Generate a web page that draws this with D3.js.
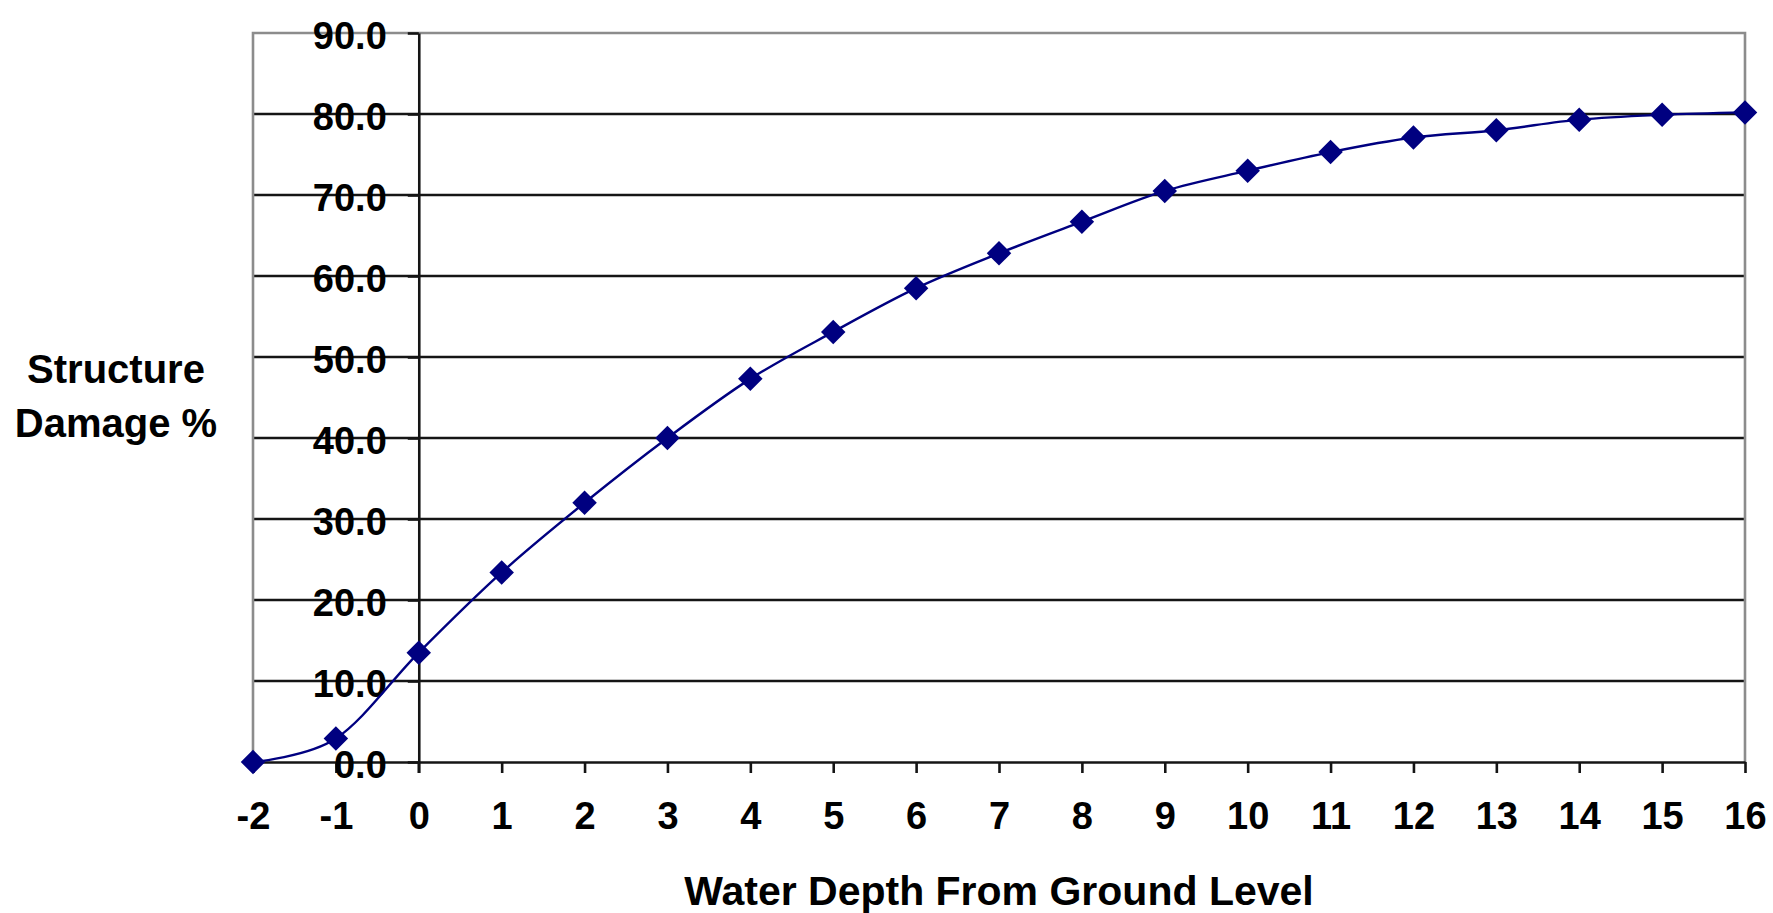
<html>
<style>
    body { margin:0; background:#fff; }
    .chart text { font-family:"Liberation Sans", Arial, sans-serif; font-weight:bold; fill:#000; }
</style>
<script src="https://d3js.org/d3.v7.min.js" charset="utf-8"></script>
<body>
<div class="chart"></div>

<script>
    //************************************************************
    // Data
    //************************************************************
    var depths = [-2, -1, 0, 1, 2, 3, 4, 5, 6, 7, 8, 9, 10, 11, 12, 13, 14, 15, 16];
    var damage = [0.0, 2.9, 13.5, 23.4, 32.0, 40.0, 47.3, 53.1, 58.5, 62.8,
        66.7, 70.5, 73.0, 75.3, 77.1, 78.0, 79.3, 79.9, 80.2];
    var yTicks = [0, 10, 20, 30, 40, 50, 60, 70, 80, 90];
    var xTitle = "Water Depth From Ground Level";
    var yTitle = ["Structure", "Damage %"];

    //************************************************************
    // Configuration
    //************************************************************
    var W = 1773, H = 913;
    var margin = { top: 33, right: 28, bottom: 151, left: 253 };
    var width = W - margin.left - margin.right;
    var height = H - margin.top - margin.bottom;

    var svg = d3.select(".chart").append("svg")
        .attr("width", W)
        .attr("height", H);

    var g = svg.append("g")
        .attr("transform", "translate(" + margin.left + "," + margin.top + ")");

    var x = d3.scaleLinear().domain([-2, 16]).range([0, width]);
    var y = d3.scaleLinear().domain([0, 90]).range([height, 0]);

    //************************************************************
    // Gridlines and plot border
    //************************************************************
    g.selectAll("line.grid")
        .data(yTicks.filter(function(d){ return d > 0 && d < 90; }))
        .enter().append("line")
        .attr("class", "grid")
        .attr("x1", 0).attr("x2", width)
        .attr("y1", function(d){ return y(d); })
        .attr("y2", function(d){ return y(d); })
        .attr("stroke", "#151515")
        .attr("stroke-width", 2.6);

    // grey frame on left, top, right
    g.append("path")
        .attr("d", "M0," + height + "V0H" + width + "V" + height)
        .attr("fill", "none")
        .attr("stroke", "#8c8c8c")
        .attr("stroke-width", 2.6);

    //************************************************************
    // Axes - crossing at the origin
    //************************************************************
    var xAxis = g.append("g")
        .attr("transform", "translate(0," + y(0) + ")")
        .call(d3.axisBottom(x).tickValues(depths).tickSize(11).tickSizeOuter(0).tickPadding(15)
            .tickFormat(d3.format("d")));
    xAxis.select(".domain").attr("stroke", "#151515").attr("stroke-width", 2.6);
    xAxis.selectAll(".tick line").attr("stroke", "#151515").attr("stroke-width", 2.6);
    xAxis.selectAll(".tick text")
        .attr("y", 0)
        .attr("dy", null)
        .attr("transform", "translate(0,67)")
        .style("font-size", "38px")
        .text(function(d){ return d < 0 ? "-" + Math.abs(d) : d; });

    var yAxis = g.append("g")
        .attr("transform", "translate(" + x(0) + ",0)")
        .call(d3.axisLeft(y).tickValues(yTicks).tickSize(11).tickSizeOuter(0)
            .tickFormat(d3.format(".1f")));
    yAxis.select(".domain").attr("stroke", "#151515").attr("stroke-width", 2.6);
    yAxis.selectAll(".tick line").attr("stroke", "#151515").attr("stroke-width", 2.6);
    yAxis.selectAll(".tick text")
        .attr("x", -32)
        .attr("dy", "15px")
        .style("font-size", "38px");

    // the y axis continues below the x axis as the tick at 0
    g.append("line")
        .attr("x1", x(0)).attr("x2", x(0))
        .attr("y1", y(0)).attr("y2", y(0) + 11)
        .attr("stroke", "#151515")
        .attr("stroke-width", 2.6);

    //************************************************************
    // Smoothed line and diamond markers
    //************************************************************
    var points = depths.map(function(d, i){ return [d, damage[i]]; });

    var line = d3.line()
        .x(function(d){ return x(d[0]); })
        .y(function(d){ return y(d[1]); })
        .curve(d3.curveCatmullRom.alpha(0));

    g.append("path")
        .datum(points)
        .attr("fill", "none")
        .attr("stroke", "#000080")
        .attr("stroke-width", 2.4)
        .attr("d", line);

    g.selectAll("path.marker")
        .data(points)
        .enter().append("path")
        .attr("class", "marker")
        .attr("d", d3.symbol().type(d3.symbolSquare).size(300))
        .attr("transform", function(d){
            return "translate(" + x(d[0]) + "," + y(d[1]) + ") rotate(45)";
        })
        .attr("fill", "#000080");

    //************************************************************
    // Axis titles
    //************************************************************
    svg.append("text")
        .attr("x", margin.left + width / 2)
        .attr("y", 905)
        .attr("text-anchor", "middle")
        .style("font-size", "41px")
        .text(xTitle);

    svg.selectAll("text.ytitle")
        .data(yTitle)
        .enter().append("text")
        .attr("class", "ytitle")
        .attr("x", 116)
        .attr("y", function(d, i){ return 383 + i * 54; })
        .attr("text-anchor", "middle")
        .style("font-size", "40px")
        .text(function(d){ return d; });
</script>
</body>
</html>
